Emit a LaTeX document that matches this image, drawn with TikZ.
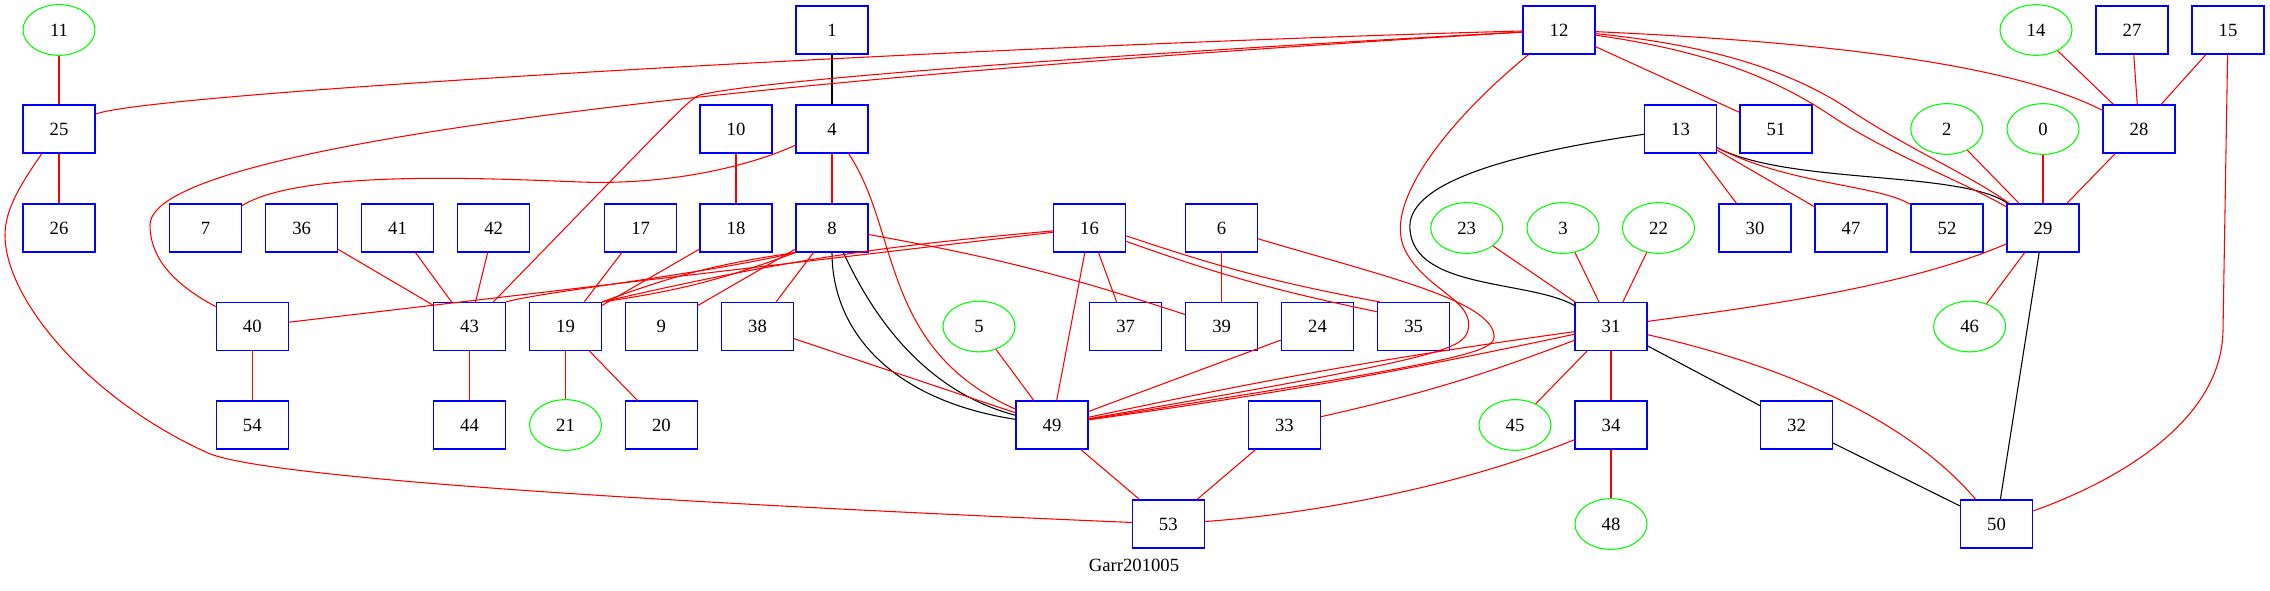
\documentclass[tikz,border=0pt]{standalone}
\usepackage{fontspec}
\setmainfont{Liberation Serif}
\usepackage{tikz}
\usetikzlibrary{
  shapes.geometric
}
\usepackage{xcolor}
\definecolor{popblue}{HTML}{0000FF}
\definecolor{leafgreen}{HTML}{00FF00}
\definecolor{linkred}{HTML}{FF0000}

\begin{document}
\begin{tikzpicture}[x=0.75pt, y=-0.75pt,
  pop/.style={draw=popblue, line width=0.8pt, rectangle, minimum width=54pt, minimum height=36pt, inner sep=0pt, font=\fontsize{14}{16}\selectfont},
  leaf/.style={draw=leafgreen, line width=0.8pt, ellipse, minimum width=54pt, minimum height=38pt, inner sep=0pt, font=\fontsize{14}{16}\selectfont},
  redlink/.style={draw=linkred, line width=0.8pt},
  blacklink/.style={draw=black, line width=0.8pt}
]
  \useasboundingbox (0,0) rectangle (2270,591);

  % Row 1
  \node[leaf] (n11) at (59,30) {11};
  \node[pop] (n1) at (832,30) {1};
  \node[pop] (n12) at (1559,30) {12};
  \node[leaf] (n14) at (2036,30) {14};
  \node[pop] (n27) at (2132,30) {27};
  \node[pop] (n15) at (2228,30) {15};
  % Row 2
  \node[pop] (n25) at (59,129) {25};
  \node[pop] (n10) at (736,129) {10};
  \node[pop] (n4) at (832,129) {4};
  \node[pop] (n13) at (1680.5,129) {13};
  \node[pop] (n51) at (1776,129) {51};
  \node[leaf] (n2) at (1946.7,129) {2};
  \node[leaf] (n0) at (2043,129) {0};
  \node[pop] (n28) at (2139,129) {28};
  % Row 3
  \node[pop] (n26) at (59,228) {26};
  \node[pop] (n7) at (205.5,228) {7};
  \node[pop] (n36) at (301.7,228) {36};
  \node[pop] (n41) at (397.5,228) {41};
  \node[pop] (n42) at (493.7,228) {42};
  \node[pop] (n17) at (640.6,228) {17};
  \node[pop] (n18) at (736,228) {18};
  \node[pop] (n8) at (832,228) {8};
  \node[pop] (n16) at (1089.5,228) {16};
  \node[pop] (n6) at (1221.6,228) {6};
  \node[leaf] (n23) at (1466.7,228) {23};
  \node[leaf] (n3) at (1563,228) {3};
  \node[leaf] (n22) at (1658.5,228) {22};
  \node[pop] (n30) at (1755,228) {30};
  \node[pop] (n47) at (1851,228) {47};
  \node[pop] (n52) at (1947,228) {52};
  \node[pop] (n29) at (2043,228) {29};
  % Row 4
  \node[pop] (n40) at (252.3,326.5) {40};
  \node[pop] (n43) at (469.5,326.5) {43};
  \node[pop] (n19) at (565.5,326.5) {19};
  \node[pop] (n9) at (661.4,326.5) {9};
  \node[pop] (n38) at (757.5,326.5) {38};
  \node[leaf] (n5) at (979,326.5) {5};
  \node[pop] (n37) at (1125.6,326.5) {37};
  \node[pop] (n39) at (1221.6,326.5) {39};
  \node[pop] (n24) at (1317.5,326.5) {24};
  \node[pop] (n35) at (1413.6,326.5) {35};
  \node[pop] (n31) at (1611,326.5) {31};
  \node[leaf] (n46) at (1969.6,326.5) {46};
  % Row 5
  \node[pop] (n54) at (252.3,425) {54};
  \node[pop] (n44) at (469.5,425) {44};
  \node[leaf] (n21) at (565.5,425) {21};
  \node[pop] (n20) at (661.4,425) {20};
  \node[pop] (n49) at (1052,425) {49};
  \node[pop] (n33) at (1284.4,425) {33};
  \node[leaf] (n45) at (1515,425) {45};
  \node[pop] (n34) at (1611,425) {34};
  \node[pop] (n32) at (1796.5,425) {32};
  % Row 6
  \node[pop] (n53) at (1168.3,524) {53};
  \node[leaf] (n48) at (1611,524) {48};
  \node[pop] (n50) at (1996.5,524) {50};

  \node[font=\fontsize{14}{16}\selectfont] (title) at (1134,565) {Garr201005};

  % Black links
  \draw[blacklink] (n1) -- (n4);
  \draw[blacklink] (n8) .. controls (832,330) and (890,400) .. (n49);
  \draw[blacklink] (n8) .. controls (870,310) and (920,390) .. (n49);
  \draw[blacklink] (n13) .. controls (1500,155) and (1405,185) .. (1410,230) .. controls (1415,290) and (1530,280) .. (n31);
  \draw[blacklink] (n13) .. controls (1790,185) and (1960,170) .. (n29);
  \draw[blacklink] (n29) -- (n50);
  \draw[blacklink] (n31) -- (n32);
  \draw[blacklink] (n32) -- (n50);

  % Red links, left part
  \draw[redlink] (n11) -- (n25);
  \draw[redlink] (n25) -- (n26);
  \draw[redlink] (n25) .. controls (20,185) and (5,210) .. (5,235) .. controls (5,300) and (90,400) .. (208,453) .. controls (260,476) and (600,500) .. (n53);
  \draw[redlink] (n12) .. controls (1000,45) and (150,92) .. (n25);
  \draw[redlink] (n12) .. controls (800,75) and (150,140) .. (150,225) .. controls (150,265) and (185,290) .. (n40);
  \draw[redlink] (n12) .. controls (1100,55) and (760,80) .. (700,95) .. controls (690,98) and (680,110) .. (n43);
  \draw[redlink] (n4) .. controls (740,170) and (660,185) .. (580,182) .. controls (480,178) and (300,170) .. (n7);
  \draw[redlink] (n4) -- (n8);
  \draw[redlink] (n4) .. controls (900,230) and (880,350) .. (n49);
  \draw[redlink] (n10) -- (n18);
  \draw[redlink] (n36) -- (n43);
  \draw[redlink] (n41) -- (n43);
  \draw[redlink] (n42) -- (n43);
  \draw[redlink] (n17) -- (n19);
  \draw[redlink] (n18) -- (n19);
  \draw[redlink] (n8.south west) to[bend left=6] (n19.north east);
  \draw[redlink] (n8.south west) to[bend right=6] (n19.north east);
  \draw[redlink] (n8.south west) .. controls (700,275) and (540,292) .. (n43.north east);
  \draw[redlink] (n8) -- (n9);
  \draw[redlink] (n8) -- (n38);
  \draw[redlink] (n8) to[bend left=4] (n39);
  \draw[redlink] (n16) -- (n40);
  \draw[redlink] (n16) to[bend right=4] (n19.north east);
  \draw[redlink] (n16) -- (n37);
  \draw[redlink] (n16) -- (n49);
  \draw[redlink] (n16.-12) to[bend right=4] (n35.144);
  \draw[redlink] (n16.-20) to[bend right=4] (n35.158);
  \draw[redlink] (n6) -- (n39);
  \draw[redlink] (n40) -- (n54);
  \draw[redlink] (n43) -- (n44);
  \draw[redlink] (n19) -- (n21);
  \draw[redlink] (n19) -- (n20);
  \draw[redlink] (n5) -- (n49);
  \draw[redlink] (n38) -- (n49);
  \draw[redlink] (n24) -- (n49);
  \draw[redlink] (n49) -- (n53);
  \draw[redlink] (n33) -- (n53);

  % Red links, right part
  \draw[redlink] (n12) .. controls (1460,110) and (1380,200) .. (1405,250) .. controls (1425,290) and (1475,300) .. (1468,330) .. controls (1463,350) and (1440,358) .. (n49);
  \draw[redlink] (n6) .. controls (1380,275) and (1490,300) .. (1494,335) .. controls (1496,352) and (1470,360) .. (n49);
  \draw[redlink] (n12) -- (n51);
  \draw[redlink] (n12) .. controls (1700,50) and (1770,75) .. (1830,115) .. controls (1890,155) and (1960,180) .. (n29);
  \draw[redlink] (n12) .. controls (1710,45) and (1790,70) .. (1850,110) .. controls (1910,150) and (1970,175) .. (n29);
  \draw[redlink] (n12) .. controls (1780,40) and (2000,58) .. (n28);
  \draw[redlink] (n14) -- (n28);
  \draw[redlink] (n27) -- (n28);
  \draw[redlink] (n15) -- (n28);
  \draw[redlink] (n15) -- (2223,330) .. controls (2222,420) and (2120,480) .. (n50);
  \draw[redlink] (n2) -- (n29);
  \draw[redlink] (n0) -- (n29);
  \draw[redlink] (n28) -- (n29);
  \draw[redlink] (n13) -- (n30);
  \draw[redlink] (n13) -- (n47);
  \draw[redlink] (n13) .. controls (1790,185) and (1880,185) .. (n52);
  \draw[redlink] (n29) .. controls (1900,290) and (1730,310) .. (n31);
  \draw[redlink] (n29) -- (n46);
  \draw[redlink] (n23) -- (n31);
  \draw[redlink] (n3) -- (n31);
  \draw[redlink] (n22) -- (n31);
  \draw[redlink] (n31) to[bend left=2] (n49);
  \draw[redlink] (n31) to[bend right=2] (n49);
  \draw[redlink] (n31) to[bend left=4] (n33);
  \draw[redlink] (n31) -- (n45);
  \draw[redlink] (n31) -- (n34);
  \draw[redlink] (n31) .. controls (1760,360) and (1900,410) .. (n50);
  \draw[redlink] (n34) -- (n48);
  \draw[redlink] (n34) .. controls (1450,490) and (1300,515) .. (n53);
\end{tikzpicture}
\end{document}
